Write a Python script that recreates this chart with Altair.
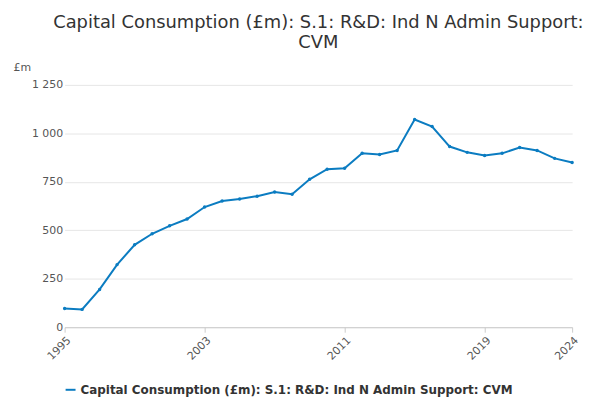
import pandas as pd
import altair as alt

years = list(range(1995, 2025))
values = [97, 92, 195, 323, 425, 482, 523, 558, 620, 651, 661, 676, 697, 686, 763,
          815, 820, 897, 891, 912, 1071, 1035, 932, 902, 886, 897, 927, 912, 871, 850]
series = "Capital Consumption (£m): S.1: R&D: Ind N Admin Support: CVM"

df = pd.DataFrame({"year": years, "value": values, "series": series})
_BLUE = "#0b7cc1"
_FONT = "DejaVu Sans"

line = alt.Chart(df).mark_line(color=_BLUE, strokeWidth=2, point=alt.OverlayMarkDef(size=12, color=_BLUE)).encode(
    x=alt.X("year:Q", title=None, scale=alt.Scale(domain=[1995, 2024], nice=False),
            axis=alt.Axis(values=[1995, 2003, 2011, 2019, 2024], format="d", labelAngle=-45,
                          grid=False, domainColor="#ccc", tickColor="#ccc",
                          labelColor="#555", labelFontSize=11, labelFont=_FONT)),
    y=alt.Y("value:Q", title="£m", scale=alt.Scale(domain=[0, 1250]),
            axis=alt.Axis(values=[0, 250, 500, 750, 1000, 1250],
                          labelExpr="replace(format(datum.value, ','), ',', ' ')",
                          domain=False, ticks=False, gridColor="#e6e6e6",
                          labelColor="#555", labelFontSize=11, labelFont=_FONT,
                          titleAngle=0, titleAlign="left", titleY=-12,
                          titleX=-52, titleFontWeight="normal", titleColor="#555",
                          titleFontSize=11, titleFont=_FONT)),
    color=alt.Color("series:N", scale=alt.Scale(range=[_BLUE]),
                    legend=alt.Legend(title=None, orient="bottom", labelFontSize=12,
                                      labelFontWeight="bold", labelColor="#333",
                                      labelFont=_FONT, labelLimit=600, symbolType="stroke",
                                      symbolStrokeWidth=2, offset=22)),
)

source = alt.Chart(df).mark_text(text="Source:", align="right", fontSize=12,
                                 color="#555", font=_FONT).encode(
    x=alt.value(526), y=alt.value(80 + 244))

chart = (line + source).properties(
    width=511, height=244,
    title=alt.TitleParams(["Capital Consumption (£m): S.1: R&D: Ind N Admin Support:", "CVM"],
                          fontSize=18, fontWeight="normal", color="#333", font=_FONT,
                          anchor="middle", offset=10),
).configure_view(stroke=None)

chart.save("out.html", embed_options={"renderer": "svg", "actions": False})
